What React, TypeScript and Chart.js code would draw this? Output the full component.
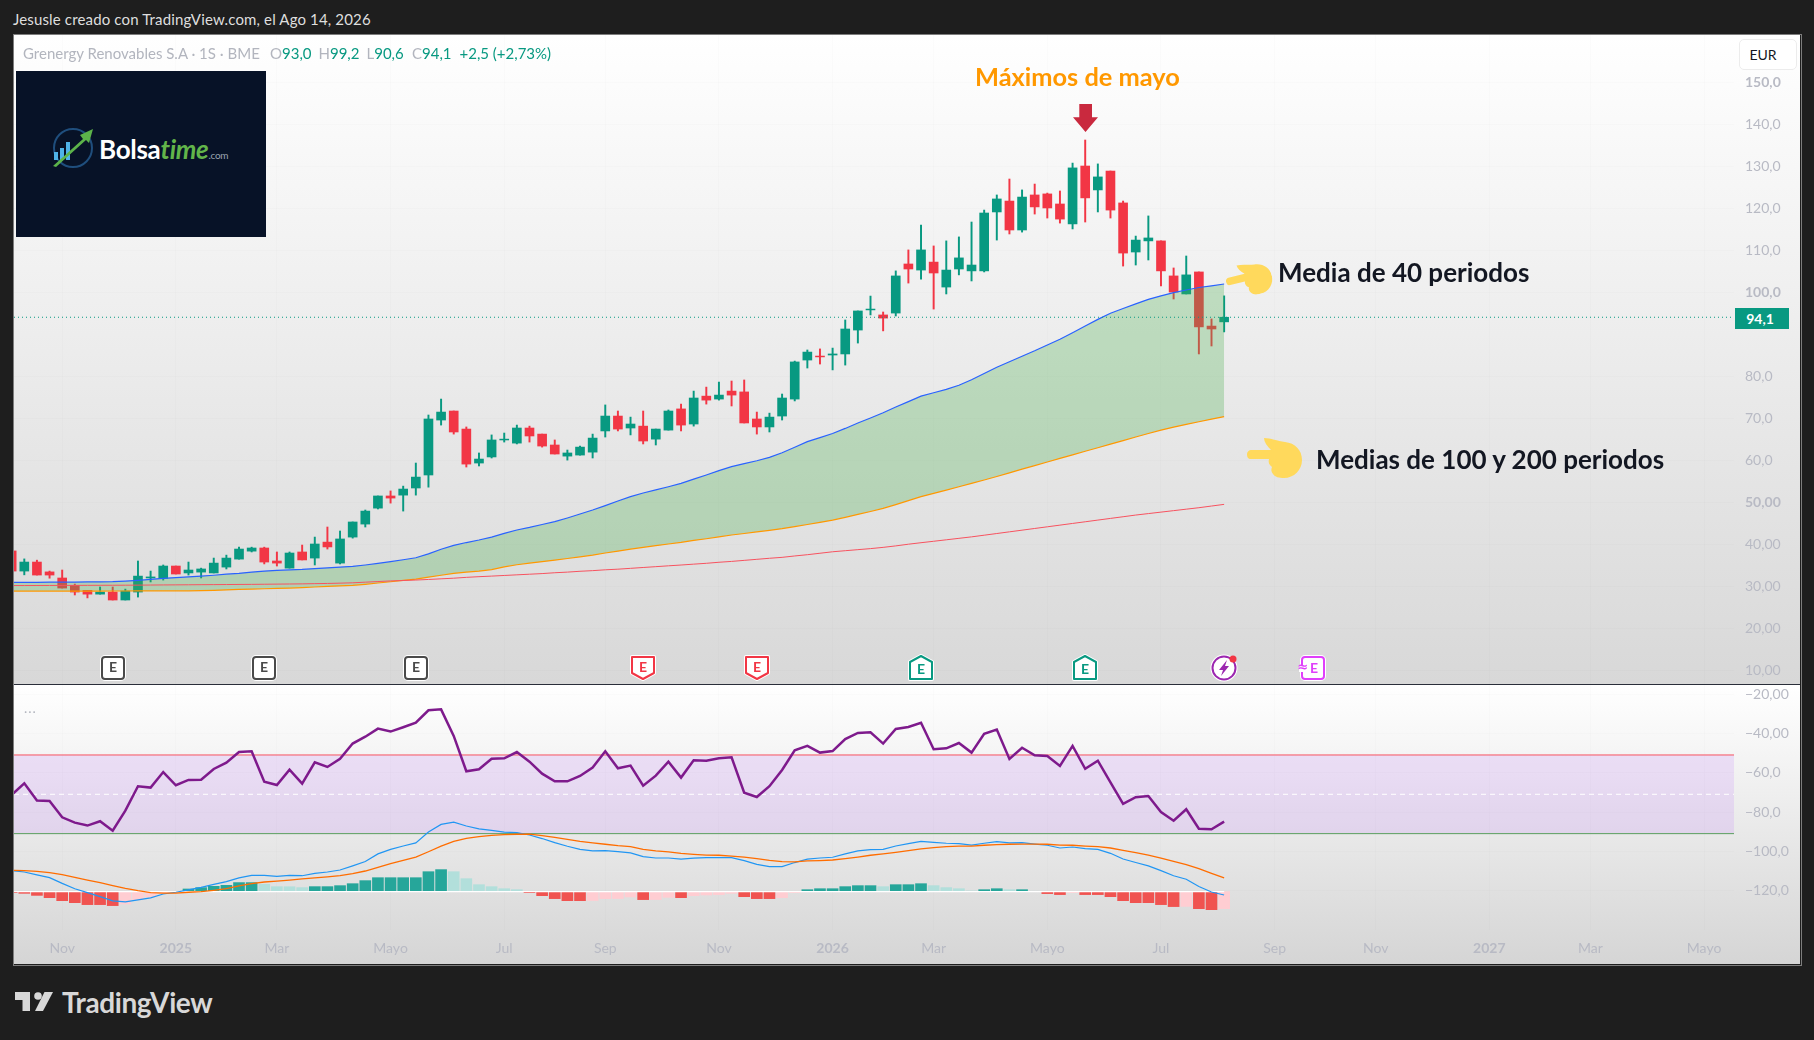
import React, { useEffect, useRef } from "react";
import { Chart, registerables } from "chart.js";

Chart.register(...registerables);

const FONT = 'Lato, "Noto Sans", sans-serif';
const UP = "#089981";
const DOWN = "#f23645";

// Weekly bars. The first entry is the partly hidden bar at the left edge.
const firstBar = -1;
const opens = [38.4,33.6,35.75,33.4,31.95,30.2,29.0,28.1,28.6,26.7,28.6,31.95,31.85,34.8,33.15,33.35,33.15,34.55,36.45,38.35,39.1,36.0,34.3,38.15,36.7,40.5,35.5,41.7,44.8,48.6,51.5,51.7,53.4,56.5,69.6,71.75,67.45,59.35,60.8,64.85,64.1,67.7,66.25,63.65,61.0,61.25,61.95,67.0,70.55,67.7,68.15,65.05,67.2,72.25,68.65,75.3,74.6,76.5,76.3,69.85,67.95,70.55,74.6,83.9,84.85,85.1,85.35,91.05,95.85,94.65,95.1,106.8,105.35,107.25,101.3,105.6,105.15,105.15,119.2,121.8,114.9,123.25,123.5,121.1,116.35,130.15,124.45,128.95,121.35,109.65,112.3,112.3,103.95,99.65,104.9,92.0,93.0];
const highs = [38.4,36.5,36.2,33.6,33.85,30.5,29.0,29.8,29.8,29.3,36.0,33.6,35.05,34.8,35.75,34.3,36.7,37.4,39.3,39.3,39.3,38.15,38.15,39.8,41.7,44.1,43.15,45.3,48.15,51.5,52.7,53.85,59.35,70.8,74.6,71.75,67.95,61.75,66.05,66.5,68.4,68.15,66.25,64.85,62.45,63.4,66.25,73.2,71.75,70.3,71.75,67.45,72.0,73.4,76.5,77.45,78.65,78.9,79.15,71.5,71.25,75.8,83.65,86.3,86.55,86.75,93.45,95.6,99.15,95.35,105.15,110.15,116.1,111.1,112.3,113.25,116.8,119.65,123.25,127.05,124.45,125.85,123.7,124.2,130.85,136.35,130.65,128.95,121.8,113.45,118.25,112.3,105.85,108.7,104.9,93.7,99.2];
const lows = [33.6,32.7,32.65,31.9,29.55,27.9,27.2,28.1,26.7,26.7,27.4,31.0,31.45,32.9,32.65,31.95,33.15,34.1,36.45,38.15,35.3,34.8,34.3,36.25,35.05,38.85,35.3,41.45,44.1,48.4,49.8,47.9,51.7,53.6,68.4,66.25,58.4,58.65,60.55,64.35,63.9,64.35,63.15,61.5,60.05,61.25,60.55,65.55,67.0,66.05,63.9,63.65,67.2,67.0,68.15,73.4,74.35,72.95,68.9,66.25,66.75,69.6,74.15,82.0,82.95,81.55,82.7,87.95,94.65,90.85,94.4,102.25,103.2,96.05,99.65,104.2,102.75,104.9,112.5,113.95,114.4,118.7,117.75,116.55,115.15,116.8,119.2,117.75,106.3,106.55,107.75,101.55,98.45,99.65,85.35,87.25,90.6];
const closes = [33.6,35.75,32.65,32.65,29.55,28.6,28.1,28.6,26.7,28.85,32.4,32.2,34.8,32.9,33.85,34.1,35.5,36.7,38.85,39.1,35.75,35.5,37.9,36.25,40.05,39.35,41.25,45.3,47.9,51.5,51.0,53.15,56.0,69.85,71.5,66.75,59.1,60.3,64.85,65.05,67.7,65.8,63.4,61.5,61.75,63.15,65.3,70.55,67.45,68.65,64.6,67.45,71.75,68.4,74.85,74.35,75.55,75.55,68.9,67.95,70.3,74.85,83.45,85.8,84.65,85.35,91.3,95.6,96.05,93.9,103.95,105.6,110.15,104.65,105.35,108.25,106.55,118.95,122.3,114.9,122.75,120.4,120.15,117.5,129.7,122.55,127.55,119.65,109.4,112.5,113.0,105.15,100.1,104.2,91.8,91.3,94.1];

const ma40 = [30.9,30.9,30.92,30.94,30.96,30.98,31.0,31.03,31.06,31.2,31.38,31.6,31.86,32.05,32.22,32.41,32.6,32.85,33.05,33.35,33.6,33.75,33.88,34.0,34.2,34.35,34.55,34.72,35.05,35.43,35.85,36.3,36.78,37.7,38.8,39.73,40.4,41.0,41.7,42.6,43.38,44.0,44.7,45.37,46.25,47.2,48.15,49.2,50.3,51.33,52.2,52.95,53.7,54.5,55.5,56.5,57.55,58.48,59.2,59.9,60.7,61.8,63.1,64.44,65.4,66.4,67.6,68.9,70.1,71.35,72.7,74.0,75.3,76.1,76.9,77.9,79.2,80.7,82.17,83.5,84.8,86.1,87.5,88.84,90.4,92.0,93.6,95.04,96.2,97.3,98.37,99.2,99.96,100.6,101.2,101.6,102.03];
const ma100 = [28.84,28.84,28.84,28.84,28.84,28.84,28.84,28.84,28.85,28.85,28.86,28.87,28.88,28.89,28.9,28.92,29.0,29.1,29.24,29.3,29.38,29.47,29.55,29.67,29.8,29.93,30.05,30.19,30.45,30.75,31.05,31.37,31.7,32.15,32.6,33.05,33.35,33.6,33.95,34.6,35.1,35.5,35.85,36.2,36.6,37.0,37.4,37.9,38.35,38.85,39.25,39.65,40.05,40.44,40.9,41.3,41.75,42.19,42.55,42.95,43.3,43.7,44.2,44.7,45.2,45.76,46.4,47.1,47.8,48.55,49.45,50.4,51.33,52.1,52.9,53.7,54.5,55.3,56.15,57.0,57.9,58.75,59.6,60.45,61.3,62.15,63.0,63.85,64.7,65.55,66.4,67.2,67.9,68.55,69.2,69.8,70.4];
const ma200 = [30.15,30.15,30.16,30.17,30.18,30.19,30.2,30.21,30.22,30.23,30.25,30.27,30.29,30.31,30.33,30.35,30.37,30.39,30.41,30.43,30.46,30.49,30.52,30.55,30.6,30.65,30.72,30.8,30.95,31.1,31.25,31.35,31.46,31.6,31.75,31.9,32.1,32.26,32.4,32.55,32.7,32.85,33.0,33.2,33.35,33.55,33.7,33.9,34.05,34.25,34.45,34.65,34.85,35.04,35.25,35.45,35.7,35.9,36.15,36.4,36.65,36.87,37.2,37.5,37.85,38.2,38.45,38.7,38.95,39.25,39.6,40.0,40.36,40.7,41.05,41.4,41.75,42.15,42.55,42.95,43.35,43.75,44.15,44.55,44.95,45.35,45.75,46.15,46.55,46.95,47.3,47.65,48.0,48.35,48.7,49.1,49.5];

const rsi = [-71.3,-65.4,-74.2,-74.4,-82.7,-85.4,-86.9,-84.7,-89.5,-79.3,-66.9,-67.6,-59.7,-66.4,-63.7,-63.6,-58.1,-54.9,-49.5,-49.1,-64.6,-66.3,-58.5,-65.6,-54.7,-57.1,-53.0,-45.2,-41.7,-37.6,-39.1,-36.9,-34.6,-28.3,-27.8,-41.3,-59.3,-58.3,-52.9,-52.7,-49.5,-54.4,-60.5,-64.4,-64.4,-61.7,-57.4,-49.1,-57.8,-56.4,-66.6,-61.5,-54.4,-62.5,-53.7,-53.9,-52.7,-52.2,-70.2,-72.4,-66.9,-58.6,-48.6,-46.4,-49.8,-49.0,-42.9,-39.8,-39.5,-45.2,-37.8,-36.8,-34.6,-48.1,-47.6,-44.9,-49.8,-40.2,-38.1,-53.0,-47.3,-51.2,-51.5,-56.6,-46.4,-58.0,-53.9,-64.9,-75.9,-72.5,-71.9,-80.0,-84.4,-78.6,-88.5,-88.8,-84.9];
const macdLine = [-109.8,-110.5,-112.0,-113.4,-116.3,-119.0,-121.0,-123.0,-125.2,-125.7,-124.7,-123.7,-121.7,-120.8,-119.6,-118.3,-116.8,-115.4,-113.5,-112.2,-112.2,-112.7,-112.2,-112.4,-111.2,-110.5,-109.5,-107.4,-105.2,-101.3,-99.0,-97.3,-95.7,-90.2,-86.3,-85.2,-87.1,-88.6,-89.3,-90.2,-90.5,-91.7,-93.5,-95.6,-97.4,-99.0,-99.8,-99.6,-100.1,-100.8,-102.7,-103.4,-103.4,-104.0,-103.5,-103.2,-103.2,-103.2,-104.7,-106.6,-107.8,-107.8,-105.7,-104.0,-103.4,-103.0,-101.3,-99.8,-99.1,-99.0,-97.3,-96.1,-94.9,-95.4,-95.9,-96.1,-96.8,-95.9,-95.1,-95.7,-95.6,-96.3,-96.9,-98.3,-97.8,-98.6,-99.0,-101.0,-103.9,-105.7,-107.4,-109.8,-112.4,-114.2,-117.9,-120.7,-122.2];
const signalLine = [-109.6,-109.8,-110.2,-110.8,-111.8,-113.2,-114.6,-115.9,-117.4,-118.8,-120.0,-121.0,-121.3,-121.2,-120.8,-120.5,-119.8,-119.0,-117.6,-116.4,-115.6,-115.1,-114.6,-114.0,-113.5,-113.0,-112.4,-111.3,-110.0,-108.1,-106.3,-104.6,-102.9,-100.2,-97.4,-94.9,-93.4,-92.5,-91.9,-91.5,-91.3,-91.3,-92.0,-92.9,-93.9,-94.9,-95.7,-96.4,-97.1,-97.6,-99.0,-99.8,-100.3,-101.0,-101.5,-101.9,-102.0,-102.4,-102.9,-103.7,-104.6,-105.2,-105.4,-104.9,-104.7,-104.4,-103.7,-102.9,-102.0,-101.3,-100.5,-99.6,-98.8,-98.1,-97.6,-97.4,-97.3,-96.9,-96.6,-96.4,-96.3,-96.3,-96.4,-96.8,-96.9,-97.3,-97.6,-98.3,-99.5,-100.7,-101.9,-103.4,-105.1,-106.8,-108.8,-111.2,-113.5];
const histogram = [-0.5,-0.85,-1.9,-3.05,-4.6,-5.6,-6.6,-6.6,-7.1,-6.3,-4.1,-2.7,-1.0,-0.2,1.35,2.05,2.7,3.2,4.6,4.6,3.75,2.55,2.5,2.05,2.55,2.55,3.05,4.05,5.6,7.1,7.1,7.1,7.1,10.15,11.2,10.15,6.6,3.55,2.55,1.5,1.0,-0.5,-2.05,-3.55,-4.6,-4.6,-4.5,-3.55,-3.5,-2.7,-4.05,-4.0,-2.9,-3.05,-2.05,-1.7,-1.5,-0.85,-2.55,-3.55,-3.55,-3.05,-0.5,1.0,1.5,1.5,2.55,3.05,3.05,2.55,3.55,3.55,4.05,3.05,2.05,1.5,0.35,1.0,1.5,1.0,1.0,0.2,-1.0,-1.5,-0.5,-1.5,-1.5,-2.55,-4.6,-5.6,-5.6,-6.6,-7.6,-7.5,-8.65,-9.15,-8.65];
const histogramZero = -120.5;
const rsiUpper = -51;
const rsiMiddle = -71;
const rsiLower = -91;
const lastPrice = 94.1;

const priceTicks = [150, 140, 130, 120, 110, 100, 80, 70, 60, 50, 40, 30, 20, 10];
const priceTickLabels = ["150,0", "140,0", "130,0", "120,0", "110,0", "100,0", "80,0", "70,0", "60,0", "50,00", "40,00", "30,00", "20,00", "10,00"];
const priceBoldTicks = [150, 100, 50];
const indicatorTicks = [-20, -40, -60, -80, -100, -120];
const indicatorTickLabels = ["−20,00", "−40,00", "−60,0", "−80,0", "−100,0", "−120,0"];
const timeTicks = [3, 12, 20, 29, 38, 46, 55, 64, 72, 81, 90, 99, 107, 116, 124, 133];
const timeTickLabels = ["Nov", "2025", "Mar", "Mayo", "Jul", "Sep", "Nov", "2026", "Mar", "Mayo", "Jul", "Sep", "Nov", "2027", "Mar", "Mayo"];
const timeBold = ["2025", "2026", "2027"];
const eventBars = [7, 19, 31, 49, 58, 71, 84, 95, 102];
const eventKinds = ["neutral", "neutral", "neutral", "miss", "miss", "beat", "beat", "now", "future"];

const xMin = -0.8155;
const xMax = 135.37;
const GRID = "rgba(42,46,57,0.015)";
const TICK = "#b8bac4";

const pts = (arr: number[]) => arr.map((y, i) => ({ x: i + firstBar, y }));
const span = (y: number) => [{ x: xMin, y }, { x: xMax, y }];
const candleColor = opens.map((o, i) => (closes[i] >= o ? UP : DOWN));

const histColor = histogram.map((h, i) => {
  const prev = i > 0 ? histogram[i - 1] : h;
  if (h >= 0) return h >= prev ? "#26a69a" : "#b2dfdb";
  return h <= prev ? "#f05350" : "#ffcdd2";
});

function drawEvent(c: CanvasRenderingContext2D, cx: number, kind: string) {
  const x = Math.round(cx);
  const top = 622;
  const bot = 644;
  c.save();
  c.lineJoin = "round";
  const shape = () => {
    c.beginPath();
    if (kind === "miss") {
      c.moveTo(x - 11, top);
      c.lineTo(x + 11, top);
      c.lineTo(x + 11, bot - 6);
      c.lineTo(x, bot);
      c.lineTo(x - 11, bot - 6);
      c.closePath();
    } else if (kind === "beat") {
      c.moveTo(x, top - 1);
      c.lineTo(x + 11, top + 5);
      c.lineTo(x + 11, bot);
      c.lineTo(x - 11, bot);
      c.lineTo(x - 11, top + 5);
      c.closePath();
    } else if (kind === "now") {
      c.arc(x, 633, 11.5, 0, Math.PI * 2);
    } else {
      c.roundRect(x - 11, top, 22, 22, 3);
    }
  };
  const color = kind === "miss" ? DOWN : kind === "beat" ? UP : kind === "now" ? "#9c27b0" : kind === "future" ? "#e040fb" : "#4a4a4a";
  shape();
  c.strokeStyle = "#ffffff";
  c.lineWidth = 4;
  c.stroke();
  c.fillStyle = "#ffffff";
  c.fill();
  shape();
  c.strokeStyle = color;
  c.lineWidth = 2;
  c.stroke();
  c.fillStyle = color;
  c.textAlign = "center";
  c.textBaseline = "middle";
  c.font = `bold 14px ${FONT}`;
  if (kind === "now") {
    c.beginPath();
    c.moveTo(x + 3, 625);
    c.lineTo(x - 5, 635);
    c.lineTo(x - 1, 635);
    c.lineTo(x - 3, 641);
    c.lineTo(x + 5, 631);
    c.lineTo(x + 1, 631);
    c.closePath();
    c.fill();
    c.beginPath();
    c.arc(x + 9, 624, 3.5, 0, Math.PI * 2);
    c.fillStyle = "#f23645";
    c.fill();
  } else if (kind === "future") {
    c.fillText("E", x + 1, 633);
    c.fillStyle = "#ffffff";
    c.fillRect(x - 14, 630, 7, 7);
    c.fillStyle = color;
    c.font = `bold 13px "DejaVu Sans"`;
    c.fillText("≈", x - 10, 633);
  } else {
    c.fillText("E", x, kind === "beat" ? 634 : 632);
  }
  c.restore();
}

const eventPlugin = {
  id: "events",
  afterDraw(chart: any) {
    eventBars.forEach((b, i) => drawEvent(chart.ctx, chart.scales.x.getPixelForValue(b), eventKinds[i]));
  },
};

const base: any = {
  responsive: false,
  maintainAspectRatio: false,
  animation: false,
  events: [],
  layout: { padding: 0, autoPadding: false },
  plugins: { legend: { display: false }, tooltip: { enabled: false } },
};

function xAxis(show: boolean) {
  return {
    type: "linear",
    min: xMin,
    max: xMax,
    offset: false,
    border: { display: false },
    grid: { color: GRID, drawTicks: false, offset: false },
    afterBuildTicks: (s: any) => {
      s.ticks = timeTicks.map((value) => ({ value }));
    },
    afterFit: (s: any) => {
      s.height = show ? 34 : 0;
      s.paddingLeft = 0;
      s.paddingRight = 0;
    },
    ticks: {
      display: show,
      autoSkip: false,
      maxRotation: 0,
      padding: 10,
      color: TICK,
      font: (ctx: any) => {
        const label = timeTickLabels[timeTicks.indexOf(ctx.tick?.value)];
        return { family: FONT, size: 14, weight: timeBold.includes(label) ? "bold" : "normal" };
      },
      callback: (v: number) => timeTickLabels[timeTicks.indexOf(v)] ?? "",
    },
  };
}

function yAxis(min: number, max: number, values: number[], labels: string[], bold: number[]) {
  return {
    position: "right",
    min,
    max,
    border: { display: false },
    grid: { color: GRID, drawTicks: false },
    afterBuildTicks: (s: any) => {
      s.ticks = values.map((value) => ({ value }));
    },
    afterFit: (s: any) => {
      s.width = 66;
      s.paddingTop = 0;
      s.paddingBottom = 0;
    },
    ticks: {
      padding: 11,
      color: TICK,
      crossAlign: "near",
      font: (ctx: any) => ({ family: FONT, size: 14, weight: bold.includes(ctx.tick?.value) ? "bold" : "normal" }),
      callback: (v: number) => labels[values.indexOf(v)] ?? "",
    },
  };
}

const line = (data: any[], color: string, width: number, order: number, extra: any = {}) => ({
  type: "line",
  data,
  borderColor: color,
  borderWidth: width,
  pointRadius: 0,
  tension: 0,
  fill: false,
  order,
  ...extra,
});

const Hand = ({ left, top, width, rotate }: { left: number; top: number; width: number; rotate: number }) => (
  <svg
    viewBox="0 0 55 41"
    style={{ position: "absolute", left, top, width, height: (width * 41) / 55, transform: `rotate(${rotate}deg)` }}
  >
    <path
      fill="#ffd95c"
      d="M4 13 H24 C20 9 17 5 17 1 C24 1 30 4 38 5 C48 6 55 13 55 23 C55 33 47 41 37 41 C32 41 28 40 26 37 C24 35 24 32 25 30 C22 28 21 25 22 22 H4 C1 22 0 20 0 17 C0 15 2 13 4 13 Z"
    />
  </svg>
);

const abs = (left: number, top: number, extra: React.CSSProperties = {}): React.CSSProperties => ({
  position: "absolute",
  left,
  top,
  whiteSpace: "nowrap",
  fontFamily: FONT,
  ...extra,
});

const ohlc = [
  { left: 270, k: "O", v: "93,0" },
  { left: 318.5, k: "H", v: "99,2" },
  { left: 366.5, k: "L", v: "90,6" },
  { left: 412, k: "C", v: "94,1" },
];

export default function App() {
  const priceRef = useRef<HTMLCanvasElement>(null);
  const indRef = useRef<HTMLCanvasElement>(null);

  useEffect(() => {
    document.body.style.margin = "0";
    document.body.style.background = "#1e1e1e";

    const price = new Chart(priceRef.current!, {
      data: {
        datasets: [
          line(span(lastPrice), UP, 1, 1, { borderDash: [1, 3] }),
          line(pts(ma200), "#f7525f", 1, 2),
          line(pts(ma100), "#ff9800", 1.2, 3),
          line(pts(ma40), "#2962ff", 1.2, 4, {
            fill: { target: 2, above: "rgba(76,175,80,0.3)", below: "rgba(76,175,80,0.3)" },
          }),
          {
            type: "bar",
            data: pts(opens).map((p, i) => ({ x: p.x, y: [opens[i], closes[i]] })),
            backgroundColor: candleColor,
            barThickness: 9,
            grouped: false,
            order: 9,
          },
          {
            type: "bar",
            data: pts(opens).map((p, i) => ({ x: p.x, y: [lows[i], highs[i]] })),
            backgroundColor: candleColor,
            barThickness: 1.3,
            grouped: false,
            order: 10,
          },
        ] as any,
      },
      options: {
        ...base,
        scales: { x: xAxis(false), y: yAxis(6.68, 161.38, priceTicks, priceTickLabels, priceBoldTicks) },
      },
      plugins: [eventPlugin],
    } as any);

    const indicator = new Chart(indRef.current!, {
      data: {
        datasets: [
          line(pts(rsi), "#7e1a8c", 2.5, 1),
          line(pts(signalLine), "#ff6d00", 1.3, 2),
          line(pts(macdLine), "#2196f3", 1.2, 3),
          line(histogram.map((_, i) => ({ x: i + firstBar, y: histogramZero })), "#ffffff", 1.2, 4),
          {
            type: "bar",
            data: pts(histogram).map((p) => ({ x: p.x, y: [histogramZero, histogramZero + p.y] })),
            backgroundColor: histColor,
            barThickness: 11,
            grouped: false,
            order: 5,
          },
          line(span(rsiMiddle), "#ffffff", 1, 6, { borderDash: [5, 4] }),
          line(span(rsiLower), "#5a9e5e", 1, 7),
          line(span(rsiUpper), "#f7525f", 1, 8, {
            fill: { target: 6, above: "rgba(183,96,255,0.15)", below: "rgba(183,96,255,0.15)" },
          }),
        ] as any,
      },
      options: {
        ...base,
        scales: { x: xAxis(true), y: yAxis(-140, -15.42, indicatorTicks, indicatorTickLabels, []) },
      },
    } as any);

    return () => {
      price.destroy();
      indicator.destroy();
    };
  }, []);

  return (
    <div style={{ position: "fixed", left: 0, top: 0, width: 1814, height: 1040, background: "#1e1e1e", overflow: "hidden" }}>
      <div style={abs(13, 10, { color: "#dedede", fontSize: 15, letterSpacing: 0.15 })}>
        Jesusle creado con TradingView.com, el Ago 14, 2026
      </div>

      {/* panel */}
      <div style={{ position: "absolute", left: 13, top: 34, width: 1787, height: 930, border: "1px solid #7d7d7d", boxSizing: "content-box" }} />
      <div style={{ position: "absolute", left: 14, top: 35, width: 1786, height: 649, background: "linear-gradient(#ffffff, #d8d8d8)" }}>
        <canvas ref={priceRef} width={1786} height={649} style={{ display: "block" }} />
      </div>
      <div style={{ position: "absolute", left: 14, top: 684, width: 1786, height: 1, background: "#2a2e39" }} />
      <div style={{ position: "absolute", left: 14, top: 685, width: 1786, height: 279, background: "linear-gradient(#ffffff, #d5d5d5)" }}>
        <canvas ref={indRef} width={1786} height={279} style={{ display: "block" }} />
      </div>

      {/* legend line */}
      <div style={abs(23, 44, { color: "#b2b5be", fontSize: 15 })}>Grenergy Renovables S.A · 1S · BME</div>
      {ohlc.map((o) => (
        <div key={o.k} style={abs(o.left, 44, { color: "#b2b5be", fontSize: 15 })}>
          {o.k}
          <span style={{ color: UP }}>{o.v}</span>
        </div>
      ))}
      <div style={abs(459.5, 44, { color: UP, fontSize: 15 })}>+2,5 (+2,73%)</div>

      {/* logo */}
      <div style={{ position: "absolute", left: 16, top: 71, width: 250, height: 166, background: "#071227" }}>
        <svg viewBox="0 0 60 50" style={{ position: "absolute", left: 35, top: 53, width: 60, height: 50 }}>
          <circle cx="22" cy="24" r="19" fill="none" stroke="#1f4e7d" strokeWidth="2" />
          <rect x="3" y="28" width="4" height="8" fill="#4fb3e8" />
          <rect x="9" y="24" width="4" height="12" fill="#4fb3e8" />
          <rect x="15" y="18" width="4" height="18" fill="#4fb3e8" />
          <path d="M2 42 L32 15 L29 11 L42 5 L38 19 L35 16 L5 43 Z" fill="#5cb34a" />
        </svg>
        <div style={abs(83, 62, { fontSize: 26, fontWeight: 700, color: "#ffffff", letterSpacing: -0.3 })}>
          Bolsa<span style={{ color: "#62b54a", fontStyle: "italic" }}>time</span>
          <span style={{ color: "#9aa4b0", fontSize: 10, fontWeight: 400 }}>.com</span>
        </div>
      </div>

      {/* EUR button */}
      <div style={abs(1739, 39, { width: 58, height: 31, boxSizing: "border-box", paddingRight: 10, background: "#ffffff", border: "1px solid #ececec", borderRadius: 5, color: "#131722", fontSize: 14, textAlign: "center", lineHeight: "29px" })}>
        EUR
      </div>

      {/* last price tag */}
      <div style={abs(1735, 308, { width: 54, height: 21, boxSizing: "border-box", paddingRight: 4, background: UP, color: "#ffffff", fontSize: 14, fontWeight: 700, textAlign: "center", lineHeight: "21px" })}>94,1</div>

      {/* annotations */}
      <div style={abs(975, 61, { color: "#ff9800", fontSize: 25.4, fontWeight: 700 })}>Máximos de mayo</div>
      <svg viewBox="0 0 25 28" style={{ position: "absolute", left: 1073, top: 104, width: 25, height: 28 }}>
        <path d="M6.3 0 H19 V13.3 H25 L12.5 28 L0 13.3 H6.3 Z" fill="#c9293e" />
      </svg>
      <Hand left={1226} top={262} width={46} rotate={-14} />
      <div style={abs(1278, 256, { color: "#131722", fontSize: 26, fontWeight: 700 })}>Media de 40 periodos</div>
      <Hand left={1247} top={437} width={55} rotate={0} />
      <div style={abs(1316, 443, { color: "#131722", fontSize: 26, fontWeight: 700 })}>Medias de 100 y 200 periodos</div>

      <div style={abs(24, 699, { color: "#b2b5be", fontSize: 14, letterSpacing: 1 })}>...</div>

      {/* footer logo */}
      <svg viewBox="0 0 38 19" style={{ position: "absolute", left: 15, top: 992, width: 38, height: 19 }}>
        <path d="M0 0 H15 V19 H7.5 V8 H0 Z" fill="#d8d8d8" />
        <circle cx="23" cy="4" r="3.8" fill="#d8d8d8" />
        <path d="M29.5 0 H38 L28 19 H20 Z" fill="#d8d8d8" />
      </svg>
      <div style={abs(62, 985, { color: "#d8d8d8", fontSize: 28, fontWeight: 700, letterSpacing: -0.4 })}>TradingView</div>
    </div>
  );
}
